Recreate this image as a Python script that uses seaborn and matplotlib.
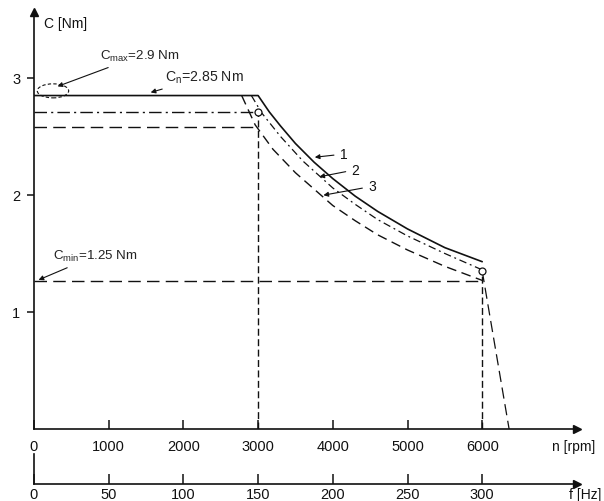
import numpy as np
import matplotlib
matplotlib.use("Agg")
import matplotlib.pyplot as plt
from matplotlib.patches import Ellipse
import seaborn as sns

# torque curves (n in rpm, C in Nm)
n1 = [0, 3000, 3150, 3300, 3500, 3750, 4000, 4300, 4600, 5000, 5500, 6000]
c1 = [2.85, 2.85, 2.71, 2.59, 2.44, 2.28, 2.14, 1.99, 1.86, 1.71, 1.55, 1.43]
n2 = [2910, 3050, 3300, 3600, 4000, 4300, 4600, 5000, 5500, 6000]
c2 = [2.85, 2.70, 2.50, 2.29, 2.06, 1.92, 1.79, 1.65, 1.50, 1.36]
n3 = [2780, 2960, 3200, 3500, 4000, 4300, 4600, 5000, 5500, 6000]
c3 = [2.85, 2.60, 2.39, 2.19, 1.91, 1.78, 1.66, 1.53, 1.39, 1.27]

# helper lines
dashdot_n = [0, 3000]
dashdot_c = [2.71, 2.71]
dash_n = [0, 2960]
dash_c = [2.58, 2.58]
cmin_n = [0, 6000]
cmin_c = [1.265, 1.265]
v3000_n = [3000, 3000]
v3000_c = [0, 2.71]
v6000_n = [6000, 6000]
v6000_c = [0, 1.35]
drop_n = [6000, 6360]
drop_c = [1.35, 0]
circ_n = [3000, 6000]
circ_c = [2.71, 1.35]

rpm_ticks = [0, 1000, 2000, 3000, 4000, 5000, 6000]
hz_ticks = [0, 50, 100, 150, 200, 250, 300]
c_ticks = [1, 2, 3]

sns.set_style("ticks")
plt.rcParams['font.family'] = ['Liberation Sans', 'DejaVu Sans']
plt.rcParams['mathtext.fontset'] = 'custom'
plt.rcParams['mathtext.rm'] = 'Liberation Sans'

fig = plt.figure(figsize=(6.04, 5.02), dpi=100)
ax = fig.add_axes([34/604, 72/502, 543/604, 417/502])
ax.set_facecolor('none')

k = '#111111'
sns.lineplot(x=n1, y=c1, ax=ax, color=k, lw=1.2, sort=False, estimator=None)
sns.lineplot(x=n2, y=c2, ax=ax, color=k, lw=0.9, sort=False, estimator=None,
             linestyle=(0, (6, 3, 1.5, 3)))
sns.lineplot(x=n3, y=c3, ax=ax, color=k, lw=1.0, sort=False, estimator=None,
             linestyle=(0, (7, 4)))
sns.lineplot(x=dashdot_n, y=dashdot_c, ax=ax, color=k, lw=1.0, sort=False,
             estimator=None, linestyle=(0, (9, 3, 1.5, 3)))
sns.lineplot(x=dash_n, y=dash_c, ax=ax, color=k, lw=1.0, sort=False,
             estimator=None, linestyle=(0, (9, 4.5)))
sns.lineplot(x=cmin_n, y=cmin_c, ax=ax, color=k, lw=1.0, sort=False,
             estimator=None, linestyle=(0, (9, 4.5)))
for xs, ys in [(v3000_n, v3000_c), (v6000_n, v6000_c)]:
    sns.lineplot(x=xs, y=ys, ax=ax, color=k, lw=1.0, sort=False,
                 estimator=None, linestyle=(0, (5, 2.5)))
sns.lineplot(x=drop_n, y=drop_c, ax=ax, color=k, lw=0.9, sort=False,
             estimator=None, linestyle=(0, (9, 4.5)))
ax.plot(circ_n, circ_c, 'o', ms=5, mfc='white', mec=k, mew=0.9, zorder=5)

ax.add_patch(Ellipse((254, 2.89), 420, 0.12, fill=False, ec=k, lw=0.8,
                     ls=(0, (3, 2))))

ax.set_xlim(0, 7269)
ax.set_ylim(0, 3.564)
ax.set_xticks(rpm_ticks)
ax.set_xticklabels([str(t) for t in rpm_ticks])
ax.set_yticks(c_ticks)
ax.set_yticklabels([str(t) for t in c_ticks])
ax.tick_params(axis='x', direction='in', length=6.5, width=1.1, pad=7,
               labelsize=10.5, colors=k)
ax.tick_params(axis='y', direction='out', length=5, width=1.1, pad=5,
               labelsize=10.5, colors=k)
sns.despine(ax=ax)
for s in ['left', 'bottom']:
    ax.spines[s].set_linewidth(1.2)
    ax.spines[s].set_color(k)
ax.set_xlabel('')
ax.set_ylabel('')
ax.plot(1, 0, '>', color=k, ms=6, transform=ax.transAxes, clip_on=False)
ax.plot(0, 1, '^', color=k, ms=6, transform=ax.transAxes, clip_on=False)

# labels and annotations
ax.text(134, 3.47, 'C [Nm]', ha='left', va='center', fontsize=10, color=k)
ax.text(6934, -0.145, 'n [rpm]', ha='left', va='center', fontsize=10, color=k)

arw = dict(arrowstyle='-|>', color=k, lw=0.8, mutation_scale=7)
ax.annotate(r'C$_\mathregular{max}$=2.9 Nm', xy=(281, 2.92), xytext=(884, 3.19),
            ha='left', va='center', fontsize=9.6, color='#222222', arrowprops=arw)
ax.annotate(r'C$_\mathregular{n}$=2.85 Nm', xy=(1526, 2.87), xytext=(1754, 3.01),
            ha='left', va='center', fontsize=10.2, color='#222222', arrowprops=arw)
ax.annotate(r'C$_\mathregular{min}$=1.25 Nm', xy=(27, 1.265), xytext=(254, 1.48),
            ha='left', va='center', fontsize=9.6, color='#222222', arrowprops=arw)
ax.annotate('1', xy=(3722, 2.32), xytext=(4096, 2.35), ha='left', va='center',
            fontsize=10, color=k, arrowprops=arw)
ax.annotate('2', xy=(3784, 2.151), xytext=(4253, 2.216), ha='left', va='center',
            fontsize=10, color=k, arrowprops=arw)
ax.annotate('3', xy=(3838, 1.994), xytext=(4476, 2.074), ha='left', va='center',
            fontsize=10, color=k, arrowprops=arw)

# frequency axis (raised a little so its labels stay inside the picture)
hx = fig.add_axes([34/604, 17/502, 543/604, 30/502])
hx.set_facecolor('none')
hx.set_xlim(0, 7269 / 20)
hx.set_ylim(0, 1)
hx.set_yticks([])
hx.set_xticks(hz_ticks)
hx.set_xticklabels([str(t) for t in hz_ticks])
hx.tick_params(axis='x', direction='in', length=7, width=1.1, pad=2,
               labelsize=10.5, colors=k)
sns.despine(ax=hx)
for s in ['left', 'bottom']:
    hx.spines[s].set_linewidth(1.2)
    hx.spines[s].set_color(k)
hx.plot(1, 0, '>', color=k, ms=6, transform=hx.transAxes, clip_on=False)
fig.text(601/604, (502-488)/502, 'f [Hz]', ha='right', va='top', fontsize=10, color=k)

fig.savefig('out.png', dpi=100)
